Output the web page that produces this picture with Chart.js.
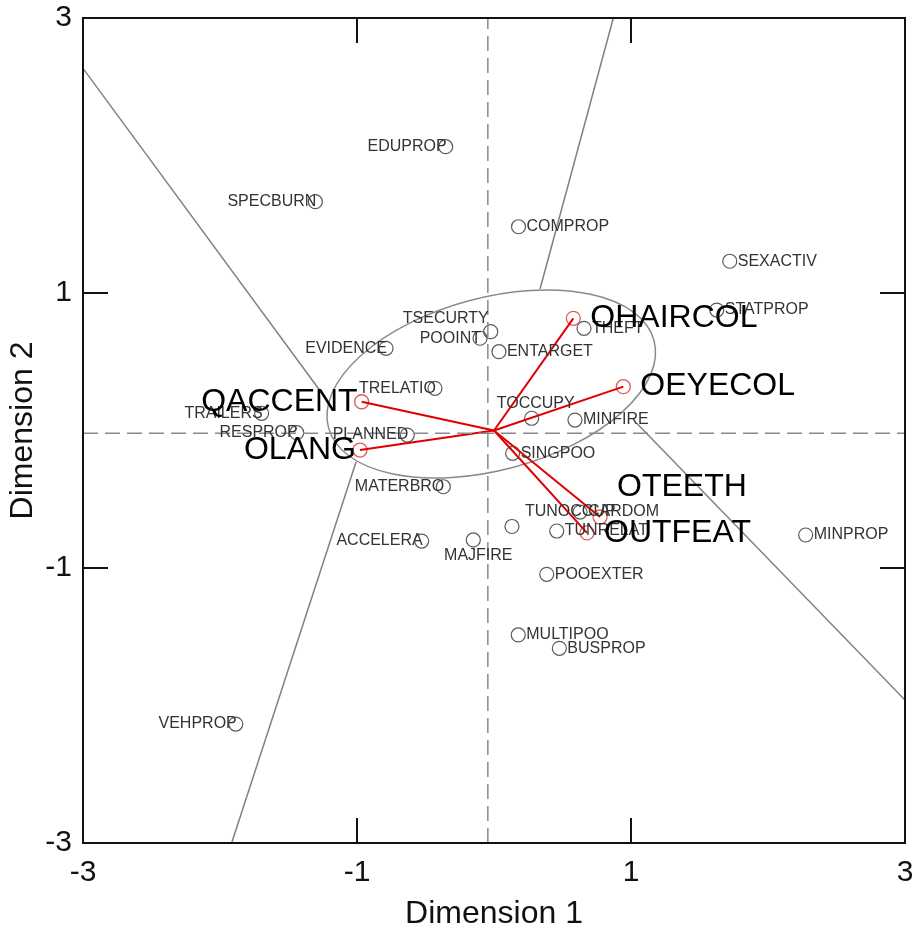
<!DOCTYPE html>
<html>
<head>
<meta charset="utf-8">
<script src="https://cdn.jsdelivr.net/npm/chart.js@4.4.0/dist/chart.umd.min.js"></script>
<style>
  html, body { margin: 0; padding: 0; background: #fff; }
</style>
</head>
<body>
<canvas id="myChart" width="914" height="930"></canvas>
<script>
// crime scene variables (grey circles)
const varNames = ["EDUPROP", "SPECBURN", "COMPROP", "SEXACTIV", "STATPROP", "MINPROP", "VEHPROP",
  "TSECURTY", "POOINT", "ENTARGET", "EVIDENCE", "TRELATIO", "TRAILERS", "RESPROP", "PLANNED",
  "MATERBRO", "THEFT", "TOCCUPY", "MINFIRE", "SINGPOO", "TUNOCCUP", "TUNRELAT", "CARDOM",
  "MAJFIRE", "ACCELERA", "POOEXTER", "MULTIPOO", "BUSPROP"];
const varDim1 = [-0.353, -1.304, 0.179, 1.721, 1.626, 2.275, -1.885,
  -0.024, -0.102, 0.036, -0.788, -0.431, -1.696, -1.440, -0.633,
  -0.370, 0.657, 0.275, 0.591, 0.136, 0.131, 0.458, 0.628,
  -0.151, -0.528, 0.385, 0.177, 0.477];
const varDim2 = [2.064, 1.664, 1.482, 1.231, 0.876, -0.760, -2.135,
  0.719, 0.671, 0.573, 0.598, 0.307, 0.125, -0.016, -0.033,
  -0.409, 0.743, 0.089, 0.076, -0.166, -0.698, -0.731, -0.593,
  -0.796, -0.804, -1.046, -1.487, -1.584];
const varLabelAt = ["left", "left", "right", "right", "right", "right", "left",
  "aboveLeft", "left", "right", "left", "left", "left", "left", "left",
  "left", "right", "above", "right", "right", "aboveRight", "right", "right",
  "below", "left", "right", "right", "right"];

// offender characteristics (red vectors)
const offNames = ["QACCENT", "OLANG", "OHAIRCOL", "OEYECOL", "OTEETH", "OUTFEAT"];
const offDim1 = [-0.966, -0.978, 0.579, 0.944, 0.774, 0.679];
const offDim2 = [0.209, -0.142, 0.816, 0.319, -0.629, -0.745];
const offLabelAt = ["left", "left", "right", "right", "aboveRight", "right"];
const vectorOrigin = [0, 0];

// region boundaries, [start, end] in dimension units
const splitNW = [[-3, 2.634], [-1.263, 0.28]];
const splitNE = [[0.871, 3], [0.336, 1.029]];
const splitSW = [[-1.915, -3], [-1.007, -0.229]];
const splitSE = [[3, -1.96], [1.042, 0.052]];

// central ellipse: centre x, centre y, half axes, tilt (deg)
const hullEllipse = [-0.02, 0.338, 1.23, 0.627, 15];

const refLineX = -0.045;
const refLineY = -0.02;
const axisTicks = [-3, -1, 1, 3];
const innerTicks = [-1, 1];

const FONT = "'Liberation Sans', Arial, Helvetica, sans-serif";

const overlay = {
  id: 'overlay',
  beforeDatasetsDraw(chart) {
    const { ctx, scales: { x, y } } = chart;
    const [cx, cy, a, b, tilt] = hullEllipse;
    ctx.save();
    ctx.beginPath();
    ctx.ellipse(x.getPixelForValue(cx), y.getPixelForValue(cy),
      x.getPixelForValue(a) - x.getPixelForValue(0),
      y.getPixelForValue(0) - y.getPixelForValue(b),
      -tilt * Math.PI / 180, 0, 2 * Math.PI);
    ctx.strokeStyle = '#8a8a8a';
    ctx.lineWidth = 1.5;
    ctx.stroke();
    ctx.restore();
  },
  afterDatasetsDraw(chart) {
    const { ctx, chartArea: ca, scales: { x, y } } = chart;
    ctx.save();
    // frame
    ctx.strokeStyle = '#111';
    ctx.lineWidth = 2;
    ctx.strokeRect(ca.left, ca.top, ca.right - ca.left, ca.bottom - ca.top);
    // inward ticks
    const len = 25;
    ctx.beginPath();
    innerTicks.forEach(v => {
      const px = x.getPixelForValue(v);
      const py = y.getPixelForValue(v);
      ctx.moveTo(px, ca.top); ctx.lineTo(px, ca.top + len);
      ctx.moveTo(px, ca.bottom); ctx.lineTo(px, ca.bottom - len);
      ctx.moveTo(ca.left, py); ctx.lineTo(ca.left + len, py);
      ctx.moveTo(ca.right, py); ctx.lineTo(ca.right - len, py);
    });
    ctx.stroke();

    // labels
    ctx.textBaseline = 'middle';
    const put = (text, vx, vy, at, big) => {
      const px = x.getPixelForValue(vx);
      const py = y.getPixelForValue(vy);
      const gap = big ? 17 : 8;
      let tx = px, ty = py, align = 'left';
      if (at === 'right') { tx = px + gap; }
      else if (at === 'left') { tx = big ? px - 4 : px + 1; align = 'right'; }
      else if (at === 'above') { tx = px + 4; ty = py - 15; align = 'center'; }
      else if (at === 'below') { tx = px + 5; ty = py + 16; align = 'center'; }
      else if (at === 'aboveRight') { tx = px + (big ? 17 : 13); ty = py - (big ? 30 : 15); }
      else if (at === 'aboveLeft') { tx = px - 2; ty = py - 13; align = 'right'; }
      ctx.textAlign = align;
      ctx.fillText(text, tx, ty);
    };
    ctx.fillStyle = '#333';
    ctx.font = '16px ' + FONT;
    varNames.forEach((n, i) => put(n, varDim1[i], varDim2[i], varLabelAt[i], false));
    ctx.fillStyle = '#000';
    ctx.font = '32px ' + FONT;
    offNames.forEach((n, i) => put(n, offDim1[i], offDim2[i], offLabelAt[i], true));
    ctx.restore();
  }
};

const lineSet = (pts, color, width, dash) => ({
  data: pts.map(([px, py]) => ({ x: px, y: py })),
  showLine: true,
  borderColor: color,
  borderWidth: width,
  borderDash: dash || [],
  pointRadius: 0,
  fill: false
});

const ctx = document.getElementById('myChart');
const myChart = new Chart(ctx, {
  type: 'scatter',
  data: {
    datasets: [
      lineSet([[refLineX, -3], [refLineX, 3]], '#8a8a8a', 1.5, [15, 7]),
      lineSet([[-3, refLineY], [3, refLineY]], '#8a8a8a', 1.5, [15, 7]),
      ...[splitNW, splitNE, splitSW, splitSE].map(s => lineSet(s, '#808080', 1.5)),
      ...offDim1.map((v, i) => lineSet([vectorOrigin, [v, offDim2[i]]], '#e00000', 2)),
      {
        data: offDim1.map((v, i) => ({ x: v, y: offDim2[i] })),
        pointRadius: 7,
        pointBorderWidth: 1.3,
        pointBorderColor: '#e45a5a',
        pointBackgroundColor: 'rgba(0,0,0,0)'
      },
      {
        data: varDim1.map((v, i) => ({ x: v, y: varDim2[i] })),
        pointRadius: 7,
        pointBorderWidth: 1.2,
        pointBorderColor: '#5a5a5a',
        pointBackgroundColor: 'rgba(0,0,0,0)'
      }
    ]
  },
  options: {
    responsive: false,
    animation: false,
    events: [],
    devicePixelRatio: 1,
    layout: { padding: { top: 18, right: 9, left: 0, bottom: 0 } },
    plugins: { legend: { display: false }, tooltip: { enabled: false } },
    scales: {
      x: {
        type: 'linear', min: -3, max: 3,
        afterBuildTicks: s => { s.ticks = axisTicks.map(v => ({ value: v })); },
        afterFit: s => { s.height = 87; s.paddingLeft = 0; s.paddingRight = 0; },
        ticks: { font: { size: 30, family: FONT }, color: '#111', padding: 12, maxRotation: 0, autoSkip: false },
        grid: { display: false, drawTicks: false },
        border: { display: false },
        title: { display: true, text: 'Dimension 1', font: { size: 32, family: FONT }, color: '#111', padding: { top: 0, bottom: -3 } }
      },
      y: {
        type: 'linear', min: -3, max: 3,
        afterBuildTicks: s => { s.ticks = axisTicks.map(v => ({ value: v })); },
        afterFit: s => { s.width = 83; s.paddingTop = 0; s.paddingBottom = 0; },
        ticks: { font: { size: 30, family: FONT }, color: '#111', padding: 11, autoSkip: false },
        grid: { display: false, drawTicks: false },
        border: { display: false },
        title: { display: true, text: 'Dimension 2', font: { size: 32, family: FONT }, color: '#111', padding: { top: 4, bottom: 0 } }
      }
    }
  },
  plugins: [overlay]
});
myChart;
</script>
</body>
</html>
